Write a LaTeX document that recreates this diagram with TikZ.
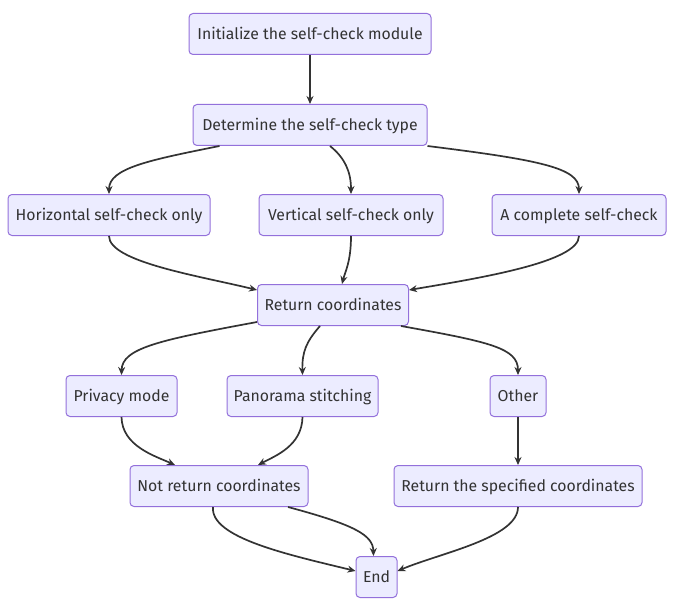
\documentclass[tikz,border=0pt]{standalone}
\usepackage{fontspec}
\setmainfont{Fira Sans}
\usetikzlibrary{arrows.meta,calc}
\definecolor{boxfill}{HTML}{ECECFF}
\definecolor{boxline}{HTML}{9370DB}
\definecolor{edge}{HTML}{333333}
\begin{document}
\begin{tikzpicture}[x=1pt,y=-1pt,
  box/.style={draw=boxline,fill=boxfill,rounded corners=4pt,line width=1pt,minimum height=41pt,inner xsep=6pt,text height=12pt,text depth=1pt,font=\fontsize{15.8}{18}\selectfont,text=edge},
  link/.style={draw=edge,line width=1.7pt,-{Stealth[length=8pt,width=7pt]}}]
\useasboundingbox (0,0) rectangle (679,604);
\node[box,minimum width=242pt] (init) at (310,34) {Initialize the self-check module};
\node[box,minimum width=234pt] (det) at (310,125) {Determine the self-check type};
\node[box,minimum width=202pt] (hor) at (109,215) {Horizontal self-check only};
\node[box,minimum width=184pt] (ver) at (351,215) {Vertical self-check only};
\node[box,minimum width=174pt] (comp) at (579,215) {A complete self-check};
\node[box,minimum width=151pt] (ret) at (333,305) {Return coordinates};
\node[box,minimum width=111pt] (priv) at (121.5,396) {Privacy mode};
\node[box,minimum width=151pt] (pano) at (302.5,396) {Panorama stitching};
\node[box,minimum width=56pt] (oth) at (518,396) {Other};
\node[box,minimum width=178pt] (notr) at (219,486) {Not return coordinates};
\node[box,minimum width=248pt] (rspec) at (518,486) {Return the specified coordinates};
\node[box,minimum width=41pt] (end) at (376.5,577) {End};
\draw[link] (init.south) -- (det.north);
\draw[link] ($(det.south west)+(27,0)$) .. controls (150,160) and (109,168) .. (hor.north);
\draw[link] ($(det.south)+(20,0)$) .. controls (345,158) and (351,172) .. (ver.north);
\draw[link] (det.south east) .. controls (540,160) and (579,168) .. (comp.north);
\draw[link] (hor.south) .. controls (109,262) and (200,276) .. ($(ret.north west)+(0,6)$);
\draw[link] (ver.south) .. controls (351,262) and (345,272) .. ($(ret.north)+(9,0)$);
\draw[link] (comp.south) .. controls (579,262) and (480,278) .. ($(ret.north east)+(0,6)$);
\draw[link] ($(ret.south west)+(0,-4)$) .. controls (160,340) and (122,348) .. (priv.north);
\draw[link] ($(ret.south)+(-13,0)$) .. controls (306,342) and (302,352) .. (pano.north);
\draw[link] ($(ret.south east)+(-8,0)$) .. controls (490,342) and (518,348) .. (oth.north);
\draw[link] (priv.south) .. controls (122,446) and (155,456) .. ($(notr.north)+(-44,0)$);
\draw[link] (pano.south) .. controls (302,446) and (275,456) .. ($(notr.north)+(39,0)$);
\draw[link] (oth.south) -- (rspec.north);
\draw[link] ($(notr.south)+(-6,0)$) .. controls (210,538) and (290,555) .. ($(end.west)+(0,-6)$);
\draw[link] ($(notr.south)+(69,0)$) .. controls (355,525) and (373,535) .. ($(end.north)+(-3,0)$);
\draw[link] (rspec.south) .. controls (518,538) and (440,553) .. ($(end.east)+(0,-6)$);
\end{tikzpicture}
\end{document}
